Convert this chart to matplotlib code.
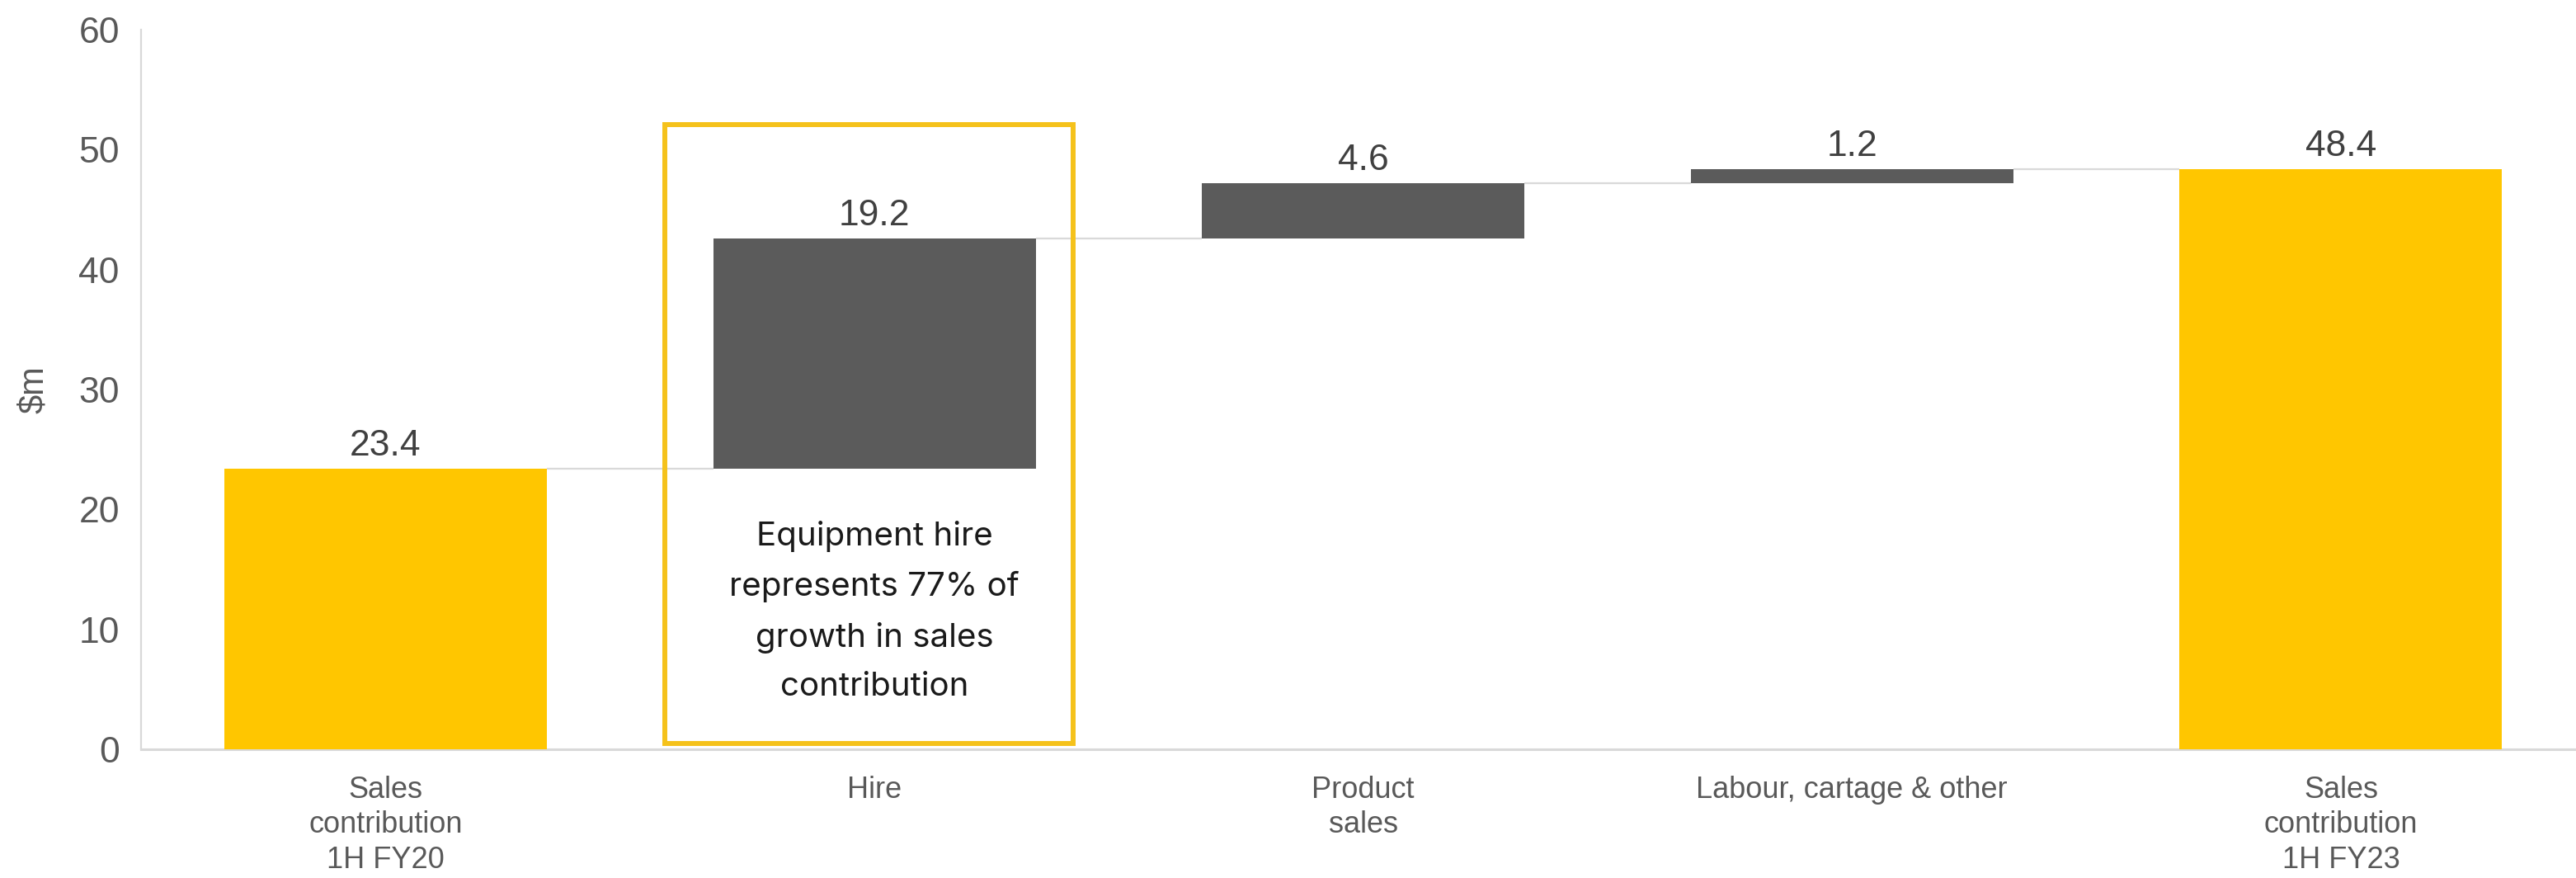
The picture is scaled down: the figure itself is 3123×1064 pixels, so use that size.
import numpy as np
import matplotlib
matplotlib.use("Agg")
import matplotlib.pyplot as plt
from matplotlib.patches import Rectangle

# waterfall: opening total, three drivers, closing total
categories = ["Sales\ncontribution\n1H FY20", "Hire", "Product\nsales",
              "Labour, cartage & other", "Sales\ncontribution\n1H FY23"]
values = [23.4, 19.2, 4.6, 1.2, 48.4]
is_total = [True, False, False, False, True]
callout = "Equipment hire\nrepresents 77% of\ngrowth in sales\ncontribution"

YELLOW = "#FFC600"
DARK = "#5B5B5B"
GREY_TXT = "#595959"
LINE = "#D9D9D9"

plt.rcParams["font.family"] = ["Liberation Sans", "DejaVu Sans"]

fig = plt.figure(figsize=(31.23, 10.64), dpi=100)
ax = fig.add_axes([0.0548, 0.1466, 0.9488, 0.8194])

x = np.arange(len(values))
width = 0.66

# bottoms / tops of each floating bar
bottoms, tops = [], []
running = 0.0
for v, tot in zip(values, is_total):
    if tot:
        bottoms.append(0.0)
        tops.append(v)
        running = v
    else:
        bottoms.append(running)
        running += v
        tops.append(running)
bottoms = np.array(bottoms)
tops = np.array(tops)
heights = tops - bottoms
colors = [YELLOW if t else DARK for t in is_total]

ax.bar(x, heights, bottom=bottoms, width=width, color=colors, zorder=3)

# connector lines between consecutive bars
for i in range(len(values) - 1):
    level = tops[i]
    ax.plot([x[i] + width / 2, x[i + 1] - width / 2], [level, level],
            color=LINE, lw=1.6, zorder=1, solid_capstyle="butt")

# value labels
for xi, top, v in zip(x, tops, values):
    ax.annotate(f"{v:.1f}", (xi, top), xytext=(0, 5), textcoords="offset points",
                ha="center", va="bottom", fontsize=32, color="#404040")

# callout box around the hire bar
ax.add_patch(Rectangle((0.572, 0.5), 0.834, 51.6, fill=False,
                       edgecolor="#F5C21B", lw=4.3, zorder=4, clip_on=False))
ax.text(1, 11.5, callout, ha="center", va="center", fontsize=29,
        family=["Inter", "DejaVu Sans"], color="#1A1A1A", linespacing=1.78, zorder=5)

ax.set_xlim(-0.5, 4.5)
ax.set_ylim(0, 60)
ax.set_yticks(np.arange(0, 61, 10))
ax.set_xticks(x)
ax.set_xticklabels(categories, fontsize=26, color=GREY_TXT, linespacing=1.27)
ax.tick_params(axis="y", length=0, pad=19, labelsize=32, labelcolor=GREY_TXT)
ax.tick_params(axis="x", length=0, pad=23)

for s in ["top", "right"]:
    ax.spines[s].set_visible(False)
ax.spines["left"].set_color(LINE)
ax.spines["left"].set_linewidth(1.6)
ax.spines["bottom"].set_color(LINE)
ax.spines["bottom"].set_linewidth(2.2)

ax.set_ylabel("$m", fontsize=30, color=GREY_TXT)
ax.yaxis.set_label_coords(-0.037, 0.5)

fig.savefig("out.png", dpi=100, facecolor="white")
